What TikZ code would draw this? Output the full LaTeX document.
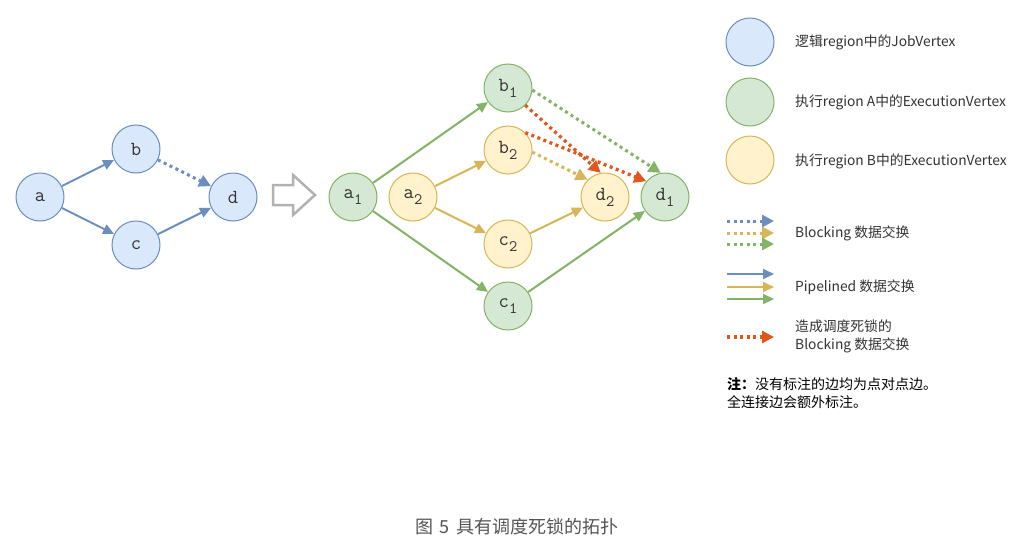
\documentclass[tikz,border=0pt]{standalone}
\usepackage{fontspec}
\newfontfamily\cjk{Noto Sans CJK SC}
\usetikzlibrary{arrows.meta}
\definecolor{bfill}{HTML}{DAE8FC}\definecolor{bline}{HTML}{6C8EBF}
\definecolor{gfill}{HTML}{D5E8D4}\definecolor{gline}{HTML}{82B366}
\definecolor{yfill}{HTML}{FFF2CC}\definecolor{yline}{HTML}{D6B656}
\definecolor{rline}{HTML}{E0561B}
\definecolor{txt}{HTML}{333333}
\definecolor{capc}{HTML}{555555}
\newcommand\mysub[1]{\raisebox{-0.3em}{\fontsize{16}{16}\selectfont #1}}
\begin{document}
\begin{tikzpicture}[x=1pt,y=-1pt,
  vtx/.style={circle, minimum size=48pt, inner sep=0pt, line width=1pt, font=\ttfamily\fontsize{20}{20}\selectfont, text=txt},
  bv/.style={vtx, draw=bline, fill=bfill},
  gv/.style={vtx, draw=gline, fill=gfill},
  yv/.style={vtx, draw=yline, fill=yfill},
  pipe/.style={line width=2pt, -{Triangle[length=11pt,width=10pt]}},
  blk/.style={line width=3pt, dash pattern=on 3pt off 3.5pt, -{Triangle[length=12pt,width=12pt]}},
  dead/.style={blk, line width=3.3pt, draw=rline},
  lbl/.style={anchor=west, font=\cjk\fontsize{13.8}{18}\selectfont, text=txt, inner sep=0pt, align=left}
]
\useasboundingbox (0,0) rectangle (1026,557);
\fill[white] (0,0) rectangle (1026,557);

% left logical graph
\node[bv] (a) at (40,197) {a};
\node[bv] (b) at (136,149) {b};
\node[bv] (c) at (136,245) {c};
\node[bv] (d) at (233,197) {d};
\draw[pipe, draw=bline] (a) -- (b);
\draw[pipe, draw=bline] (a) -- (c);
\draw[pipe, draw=bline] (c) -- (d);
\draw[blk, draw=bline] (b) -- (d);

% hollow arrow
\draw[line width=2.5pt, draw=black!30, fill=white, line join=miter]
  (273,185) -- (293,185) -- (293,175) -- (315,195) -- (293,215) -- (293,205) -- (273,205) -- cycle;

% right execution graph
\node[gv] (a1) at (353,197) {a\mysub{1}};
\node[yv] (a2) at (413,197) {a\mysub{2}};
\node[gv] (b1) at (508,88) {b\mysub{1}};
\node[yv] (b2) at (508,150) {b\mysub{2}};
\node[yv] (c2) at (508,244) {c\mysub{2}};
\node[gv] (c1) at (508,306) {c\mysub{1}};
\node[yv] (d2) at (605,197) {d\mysub{2}};
\node[gv] (d1) at (665,197) {d\mysub{1}};

\draw[pipe, draw=gline] (a1) -- (b1);
\draw[pipe, draw=gline] (a1) -- (c1);
\draw[pipe, draw=gline] (c1) -- (d1);
\draw[pipe, draw=yline] (a2) -- (b2);
\draw[pipe, draw=yline] (a2) -- (c2);
\draw[pipe, draw=yline] (c2) -- (d2);
\draw[blk, draw=gline] (b1.-5) -- (d1.100);
\draw[blk, draw=yline] (b2.-5) -- (d2.135);
\draw[dead] (b1.-45) -- (d2.100);
\draw[dead] (b2.45) -- (d1.140);

% legend: vertices
\node[bv] (lv1) at (750,42) {};
\node[gv] (lv2) at (750,102) {};
\node[yv] (lv3) at (750,160) {};
\node[lbl] (lt1) at (795,42) {逻辑region中的JobVertex};
\node[lbl] (lt2) at (795,102) {执行region A中的ExecutionVertex};
\node[lbl] (lt3) at (795,161) {执行region B中的ExecutionVertex};

% legend: edges
\coordinate (k1s) at (727,221); \coordinate (k1e) at (774,221);
\coordinate (k2s) at (727,233); \coordinate (k2e) at (774,233);
\coordinate (k3s) at (727,244); \coordinate (k3e) at (774,244);
\draw[blk, draw=bline] (k1s) -- (k1e);
\draw[blk, draw=yline] (k2s) -- (k2e);
\draw[blk, draw=gline] (k3s) -- (k3e);
\node[lbl] (lt4) at (795,233) {Blocking 数据交换};

\coordinate (p1s) at (727,274); \coordinate (p1e) at (774,274);
\coordinate (p2s) at (727,287); \coordinate (p2e) at (774,287);
\coordinate (p3s) at (727,299); \coordinate (p3e) at (774,299);
\draw[pipe, draw=bline] (p1s) -- (p1e);
\draw[pipe, draw=yline] (p2s) -- (p2e);
\draw[pipe, draw=gline] (p3s) -- (p3e);
\node[lbl] (lt5) at (795,287) {Pipelined 数据交换};

\coordinate (r1s) at (727,337); \coordinate (r1e) at (774,337);
\draw[dead] (r1s) -- (r1e);
\node[lbl] (lt6) at (795,336) {造成调度死锁的\\Blocking 数据交换};

\node[lbl, font=\cjk\fontsize{14}{18.5}\selectfont, text=black] (note) at (727,393)
  {{\bfseries 注：}没有标注的边均为点对点边。\\全连接边会额外标注。};

% caption
\node[font=\cjk\fontsize{18}{18}\selectfont, text=capc] (cap) at (517,527) {图\hspace{7pt}5\hspace{7pt}具有调度死锁的拓扑};
\end{tikzpicture}
\end{document}
